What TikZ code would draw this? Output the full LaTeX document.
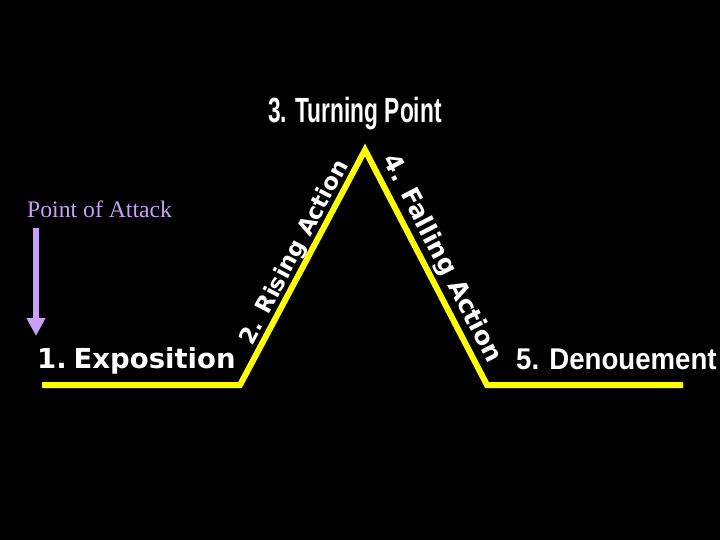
\documentclass[tikz,border=0pt]{standalone}
\usepackage{fontspec}
\usepackage{graphicx}
\usetikzlibrary{arrows.meta}
\setmainfont{Liberation Serif}
\newfontfamily\heavysans{DejaVu Sans}
\newfontfamily\narrowsans{Liberation Sans}
\definecolor{plotyellow}{RGB}{255,255,0}
\definecolor{lavender}{RGB}{200,160,245}
\tikzset{
  plotline/.style={draw=plotyellow, line width=6pt, line join=miter},
  heavylabel/.style={text=white, inner sep=0pt, font=\heavysans\bfseries\fontsize{23}{23}\selectfont},
  fallinglabel/.style={text=white, inner sep=0pt, font=\heavysans\bfseries\fontsize{25}{25}\selectfont},
  biglabel/.style={text=white, inner sep=0pt, font=\heavysans\bfseries\fontsize{27.5}{27.5}\selectfont},
  narrowlabel/.style={text=white, inner sep=0pt},
  attack/.style={draw=lavender, line width=6pt, -{Triangle[width=18pt,length=18pt]}}
}
\begin{document}
\begin{tikzpicture}[x=1pt,y=-1pt]
\fill[black] (0,0) rectangle (720,540);
\useasboundingbox (0,0) rectangle (720,540);
\coordinate (a) at (42,385);
\coordinate (b) at (240,385);
\coordinate (c) at (365,150);
\coordinate (d) at (487,385);
\coordinate (e) at (683,385);
\draw[plotline] (a) -- (b) -- (c) -- (d) -- (e);
% texts
\node[biglabel, anchor=base west] (expo) at (37,368) {1.\hspace{0.25em}Exposition};
\node[narrowlabel, anchor=base west] (turn) at (268,123)
  {\scalebox{0.65}[1]{\narrowsans\bfseries\fontsize{35}{35}\selectfont 3. Turning Point}};
\node[narrowlabel, anchor=base west] (deno) at (516,369)
  {\scalebox{0.92}[1]{\narrowsans\bfseries\fontsize{30}{30}\selectfont 5. Denouement}};
\node[heavylabel, anchor=base, rotate=62] (rise) at (300.4,256) {2. Rising Action};
\node[fallinglabel, anchor=base, rotate=-62.6] (fall) at (435.4,262.2) {4. Falling Action};
\node[text=lavender, inner sep=0pt, anchor=base west, font=\fontsize{23.7}{24}\selectfont] (poa) at (27,218) {Point of Attack};
\coordinate (arrtop) at (36,228);
\coordinate (arrtip) at (36,336);
\draw[attack] (arrtop) -- (arrtip);
\end{tikzpicture}
\end{document}
